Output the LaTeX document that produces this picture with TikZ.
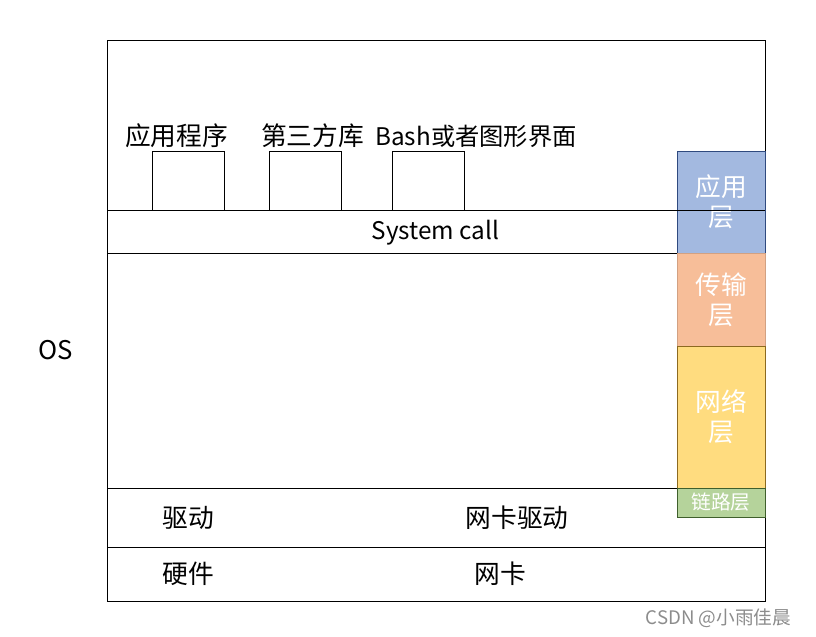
\documentclass[tikz,border=0pt]{standalone}
\usepackage{fontspec}
\setmainfont{Noto Sans CJK SC}
\definecolor{appblue}{HTML}{A3B9E0}
\definecolor{appedge}{HTML}{2F4A7F}
\definecolor{tporange}{HTML}{F7BE99}
\definecolor{netyellow}{HTML}{FFDC7F}
\definecolor{netedge}{HTML}{8C6A20}
\definecolor{linkgreen}{HTML}{B5D39B}
\definecolor{linkedge}{HTML}{3F5F2C}
\tikzset{
  lbl/.style={font=\fontsize{19.3}{23}\selectfont,inner sep=0pt},
  latinlbl/.style={font=\fontsize{18.2}{22}\selectfont,inner sep=0pt},
  layertxt/.style={font=\fontsize{19.3}{22.5}\selectfont,text=white,align=center,inner sep=0pt},
  progbox/.style={draw,minimum width=54pt,minimum height=44.25pt,inner sep=0pt}
}
\begin{document}
\begin{tikzpicture}[x=0.75pt,y=-0.75pt,line width=0.75pt]
  \useasboundingbox (0,0) rectangle (816,636);
  % outer frame
  \draw (107,40) rectangle (765,601);
  % layer column
  \draw[appedge,fill=appblue] (677,151) rectangle (765,253) node[midway,layertxt] (applayer) {应用\\层};
  \draw[tporange!85!black,fill=tporange] (677,253) rectangle (765,346) node[midway,layertxt] (tplayer) {传输\\层};
  \draw[netedge,fill=netyellow] (677,346) rectangle (765,488) node[midway,layertxt] (netlayer) {网络\\层};
  \draw[linkedge,fill=linkgreen] (677,488) rectangle (765,517) node[midway,layertxt,font=\fontsize{14.8}{16}\selectfont] (linklayer) {链路层};
  % horizontal separators
  \draw (107,210) -- (765,210);
  \draw (107,253) -- (677,253);
  \draw (107,488) -- (677,488);
  \draw (107,547) -- (765,547);
  % programs
  \node[progbox] (appbox) at (188,180.5) {};
  \node[progbox] (libbox) at (305,180.5) {};
  \node[progbox] (bashbox) at (428,180.5) {};
  \node[lbl] (applbl) at (176.5,136) {应用程序};
  \node[lbl] (liblbl) at (312.5,136) {第三方库};
  \node[latinlbl] (bashlbl) at (476,136) {Bash或者图形界面};
  \node[latinlbl] (syscall) at (435.5,233) {System call};
  \node[lbl] (os) at (56,350) {OS};
  \node[lbl] (drv) at (188,518) {驱动};
  \node[lbl] (nicdrv) at (517,518) {网卡驱动};
  \node[lbl] (hw) at (188,574) {硬件};
  \node[lbl] (nic) at (500,574) {网卡};
  \node[font=\fontsize{14}{16}\selectfont,text=black!45,inner sep=0pt] (mark) at (718.5,618) {CSDN @小雨佳晨};
\end{tikzpicture}
\end{document}
